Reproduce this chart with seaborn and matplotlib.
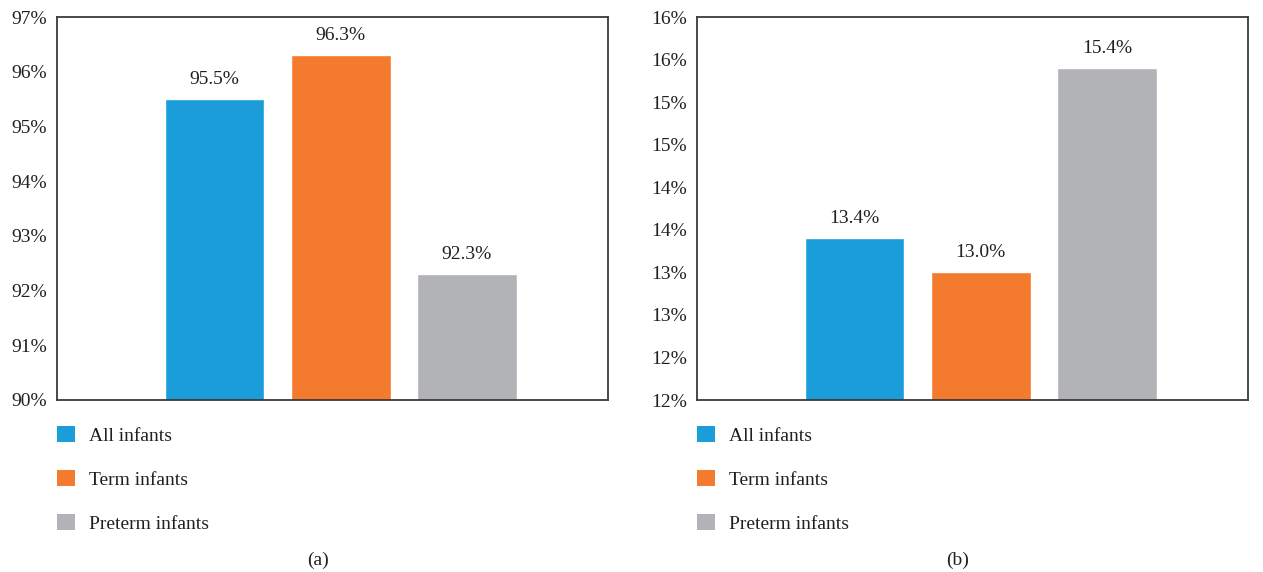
import matplotlib
matplotlib.use("Agg")
import matplotlib.pyplot as plt
import seaborn as sns
import pandas as pd
from matplotlib.patches import Patch

categories = ["All infants", "Term infants", "Preterm infants"]
values_a = [95.5, 96.3, 92.3]
values_b = [13.4, 13.0, 15.4]
ticks_a = [90, 91, 92, 93, 94, 95, 96, 97]
tick_labels_a = ["90%", "91%", "92%", "93%", "94%", "95%", "96%", "97%"]
ticks_b = [11.5, 12.0, 12.5, 13.0, 13.5, 14.0, 14.5, 15.0, 15.5, 16.0]
tick_labels_b = ["12%", "12%", "13%", "13%", "14%", "14%", "15%", "15%", "16%", "16%"]
panel_labels = ["(a)", "(b)"]
colors = ["#1a9dd9", "#f47b2d", "#b2b3b7"]

sns.set_theme(style="white")
plt.rcParams["font.family"] = ["Liberation Serif", "DejaVu Serif"]
plt.rcParams["text.color"] = "#231f20"
FS = 14

fig = plt.figure(figsize=(12.63, 5.72), dpi=100)
W, H = 1263, 572
ax_a = fig.add_axes([57 / W, 1 - 400 / H, 551 / W, 383 / H])
ax_b = fig.add_axes([697 / W, 1 - 400 / H, 551 / W, 383 / H])

panels = [
    (ax_a, values_a, ticks_a, tick_labels_a, (90, 97)),
    (ax_b, values_b, ticks_b, tick_labels_b, (11.5, 16.0)),
]

for i, (ax, vals, ticks, tlabels, ylim) in enumerate(panels):
    df = pd.DataFrame({"group": categories, "value": vals})
    sns.barplot(data=df, x="group", y="value", hue="group", palette=colors,
                order=categories, hue_order=categories, dodge=False,
                width=0.79, ax=ax, legend=False, saturation=1)
    ax.set_ylim(*ylim)
    ax.set_xlim(-1.25, 3.12)
    ax.set_yticks(ticks)
    ax.set_yticklabels(tlabels, fontsize=FS, color="#231f20")
    ax.set_xticks([])
    ax.set_xlabel("")
    ax.set_ylabel("")
    ax.tick_params(axis="y", length=0, pad=7)
    for s in ax.spines.values():
        s.set_visible(True)
        s.set_color("#3a3a3a")
        s.set_linewidth(1.3)
    for c in ax.containers:
        ax.bar_label(c, fmt="%.1f%%", padding=8, fontsize=FS, color="#231f20")
    handles = [Patch(facecolor=col, edgecolor="none") for col in colors]
    ax.legend(handles, categories, loc="upper left", bbox_to_anchor=(0.0, -0.068),
              borderaxespad=0, frameon=False, fontsize=FS, handlelength=0.9,
              handleheight=0.9, handletextpad=0.75, labelspacing=1.3,
              borderpad=0)
    pos = ax.get_position()
    fig.text(pos.x0 + pos.width / 2 - 15 / W, 1 - 560 / H, panel_labels[i],
             ha="center", va="center", fontsize=FS)

fig.savefig("out.png", dpi=100, facecolor="white")
